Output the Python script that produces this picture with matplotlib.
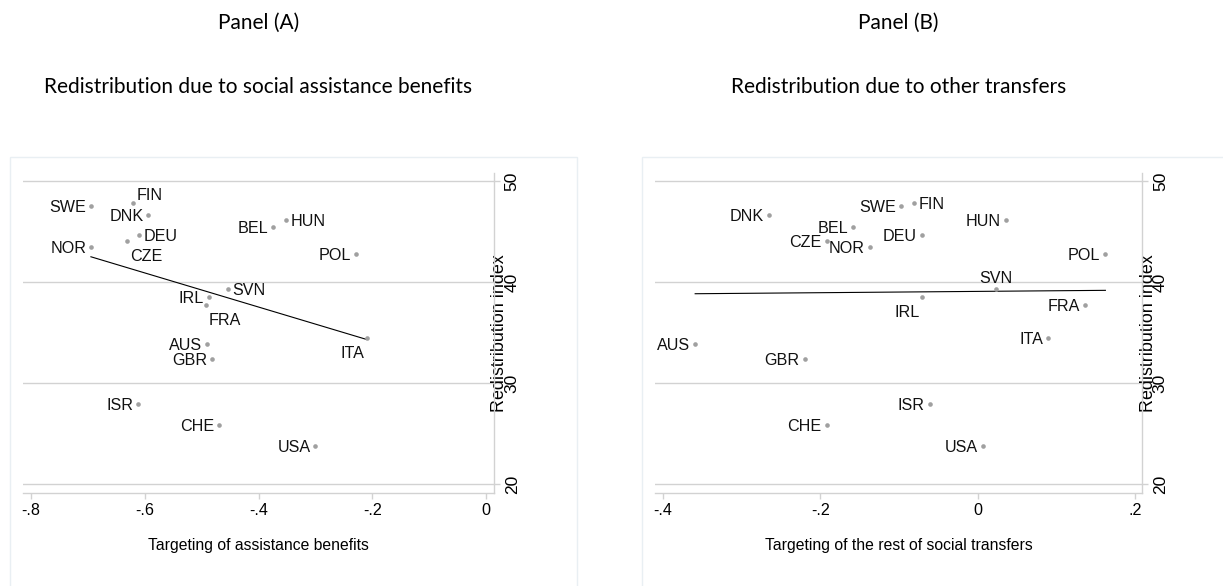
import numpy as np
import matplotlib
matplotlib.use('Agg')
import matplotlib.pyplot as plt
from matplotlib.patches import Rectangle

# data
countries = ['SWE', 'FIN', 'DNK', 'BEL', 'HUN', 'DEU', 'CZE', 'NOR', 'POL',
             'SVN', 'IRL', 'FRA', 'ITA', 'AUS', 'GBR', 'ISR', 'CHE', 'USA']
redistribution = [47.55, 47.85, 46.60, 45.48, 46.17, 44.62, 44.03, 43.47, 42.80,
                  39.28, 38.51, 37.75, 34.46, 33.83, 32.38, 27.89, 25.84, 23.79]
targeting_assist = [-0.695, -0.621, -0.594, -0.375, -0.351, -0.610, -0.632, -0.694, -0.229,
                    -0.454, -0.487, -0.493, -0.210, -0.490, -0.482, -0.612, -0.470, -0.300]
targeting_other = [-0.097, -0.081, -0.265, -0.158, 0.036, -0.071, -0.192, -0.137, 0.162,
                   0.023, -0.071, 0.136, 0.089, -0.359, -0.220, -0.061, -0.192, 0.007]

xticks_a = [-0.8, -0.6, -0.4, -0.2, 0]
xticklabels_a = ['-.8', '-.6', '-.4', '-.2', '0']
xticks_b = [-0.4, -0.2, 0, 0.2]
xticklabels_b = ['-.4', '-.2', '0', '.2']
yticks = [20, 30, 40, 50]

# label positions (clock positions as in Stata mlabpos)
pos_a = {'SWE': 9, 'FIN': 1, 'DNK': 9, 'BEL': 9, 'HUN': 3, 'DEU': 3, 'CZE': 5, 'NOR': 9,
         'POL': 9, 'SVN': 3, 'IRL': 9, 'FRA': 5, 'ITA': 7, 'AUS': 9, 'GBR': 9, 'ISR': 9,
         'CHE': 9, 'USA': 9}
pos_b = {c: 9 for c in countries}
pos_b.update({'FIN': 3, 'SVN': 12, 'IRL': 7})

offsets = {9: (-5, 0, 'right'), 3: (4.5, 0, 'left'), 1: (4, 8.5, 'left'),
           5: (3, -14, 'left'), 7: (-2.5, -14, 'right'), 12: (0, 12, 'center')}

W, H = 1223, 586
fig = plt.figure(figsize=(W / 100, H / 100), dpi=100)

grid_col = '#d2d2d2'
dot_col = '#a0a0a0'
hfont = ['Liberation Sans', 'DejaVu Sans']


def panel(rect, x, xlim, xticks, xticklabels, xlabel, pos):
    ax = fig.add_axes(rect)
    ax.set_xlim(xlim)
    ax.set_ylim(19.11, 50.76)
    ax.scatter(x, redistribution, s=11, color=dot_col, zorder=3, linewidths=0)
    b, a = np.polyfit(x, redistribution, 1)
    xs = np.array([min(x), max(x)])
    ax.plot(xs, a + b * xs, color='black', lw=0.8, zorder=2)
    for c, xv, yv in zip(countries, x, redistribution):
        dx, dy, ha = offsets[pos[c]]
        ax.annotate(c, (xv, yv), xytext=(dx, dy - 1.5), textcoords='offset pixels',
                    ha=ha, va='center', fontsize=11.6, family=hfont, color='#111111')
    for spine in ['top', 'left']:
        ax.spines[spine].set_visible(False)
    for spine in ['bottom', 'right']:
        ax.spines[spine].set_color(grid_col)
        ax.spines[spine].set_linewidth(1)
    ax.yaxis.tick_right()
    ax.set_yticks(yticks)
    ax.set_xticks(xticks)
    ax.set_xticklabels(xticklabels, fontsize=11.6, family=hfont)
    ax.set_yticklabels([str(t) for t in yticks], fontsize=12.5, family=hfont,
                       rotation=90, va='center')
    ax.tick_params(axis='both', length=4.5, width=1, color=grid_col)
    ax.tick_params(axis='x', pad=3)
    ax.tick_params(axis='y', pad=3)
    ax.grid(axis='y', color=grid_col, lw=1)
    ax.set_axisbelow(True)
    ax.set_xlabel(xlabel, fontsize=11.3, family=hfont)
    ax.xaxis.set_label_coords(0.5, -0.163)
    ax.xaxis.label.set_va('center')
    ax.set_ylabel('Redistribution index', fontsize=12.9, family=hfont)
    ax.yaxis.set_label_position('right')
    ax.yaxis.set_label_coords(1.012, 0.5)
    ax.yaxis.label.set_va('center')
    ax.yaxis.label.set_ha('center')
    ax.yaxis.label.set_rotation(90)
    return ax


bot = (H - 493) / H
hgt = (493 - 173.3) / H
rect_a = [22.7 / W, bot, 471.6 / W, hgt]
rect_b = [655 / W, bot, 487.4 / W, hgt]
panel(rect_a, targeting_assist, (-0.815, 0.0146),
      xticks_a, xticklabels_a, 'Targeting of assistance benefits', pos_a)
panel(rect_b, targeting_other, (-0.410, 0.209),
      xticks_b, xticklabels_b, 'Targeting of the rest of social transfers', pos_b)

# faint frames of the combined graphs
for x0, x1 in [(10, 577), (642, 1240)]:
    fig.patches.append(Rectangle((x0 / W, -0.05), (x1 - x0) / W, 1.05 - 157 / H,
                                 transform=fig.transFigure, fill=False,
                                 edgecolor='#e9eff3', lw=1))

# titles are centred over each plot region
tfont = ['Lato', 'DejaVu Sans']
for rect, panel_name, title in [(rect_a, 'Panel (A)', 'Redistribution due to social assistance benefits'),
                                (rect_b, 'Panel (B)', 'Redistribution due to other transfers')]:
    cx = rect[0] + rect[2] / 2
    fig.text(cx, 1 - 23 / H, panel_name, ha='center', va='center', fontsize=15, family=tfont)
    fig.text(cx, 1 - 87.5 / H, title, ha='center', va='center', fontsize=15, family=tfont)

fig.savefig('out.png', dpi=100)
